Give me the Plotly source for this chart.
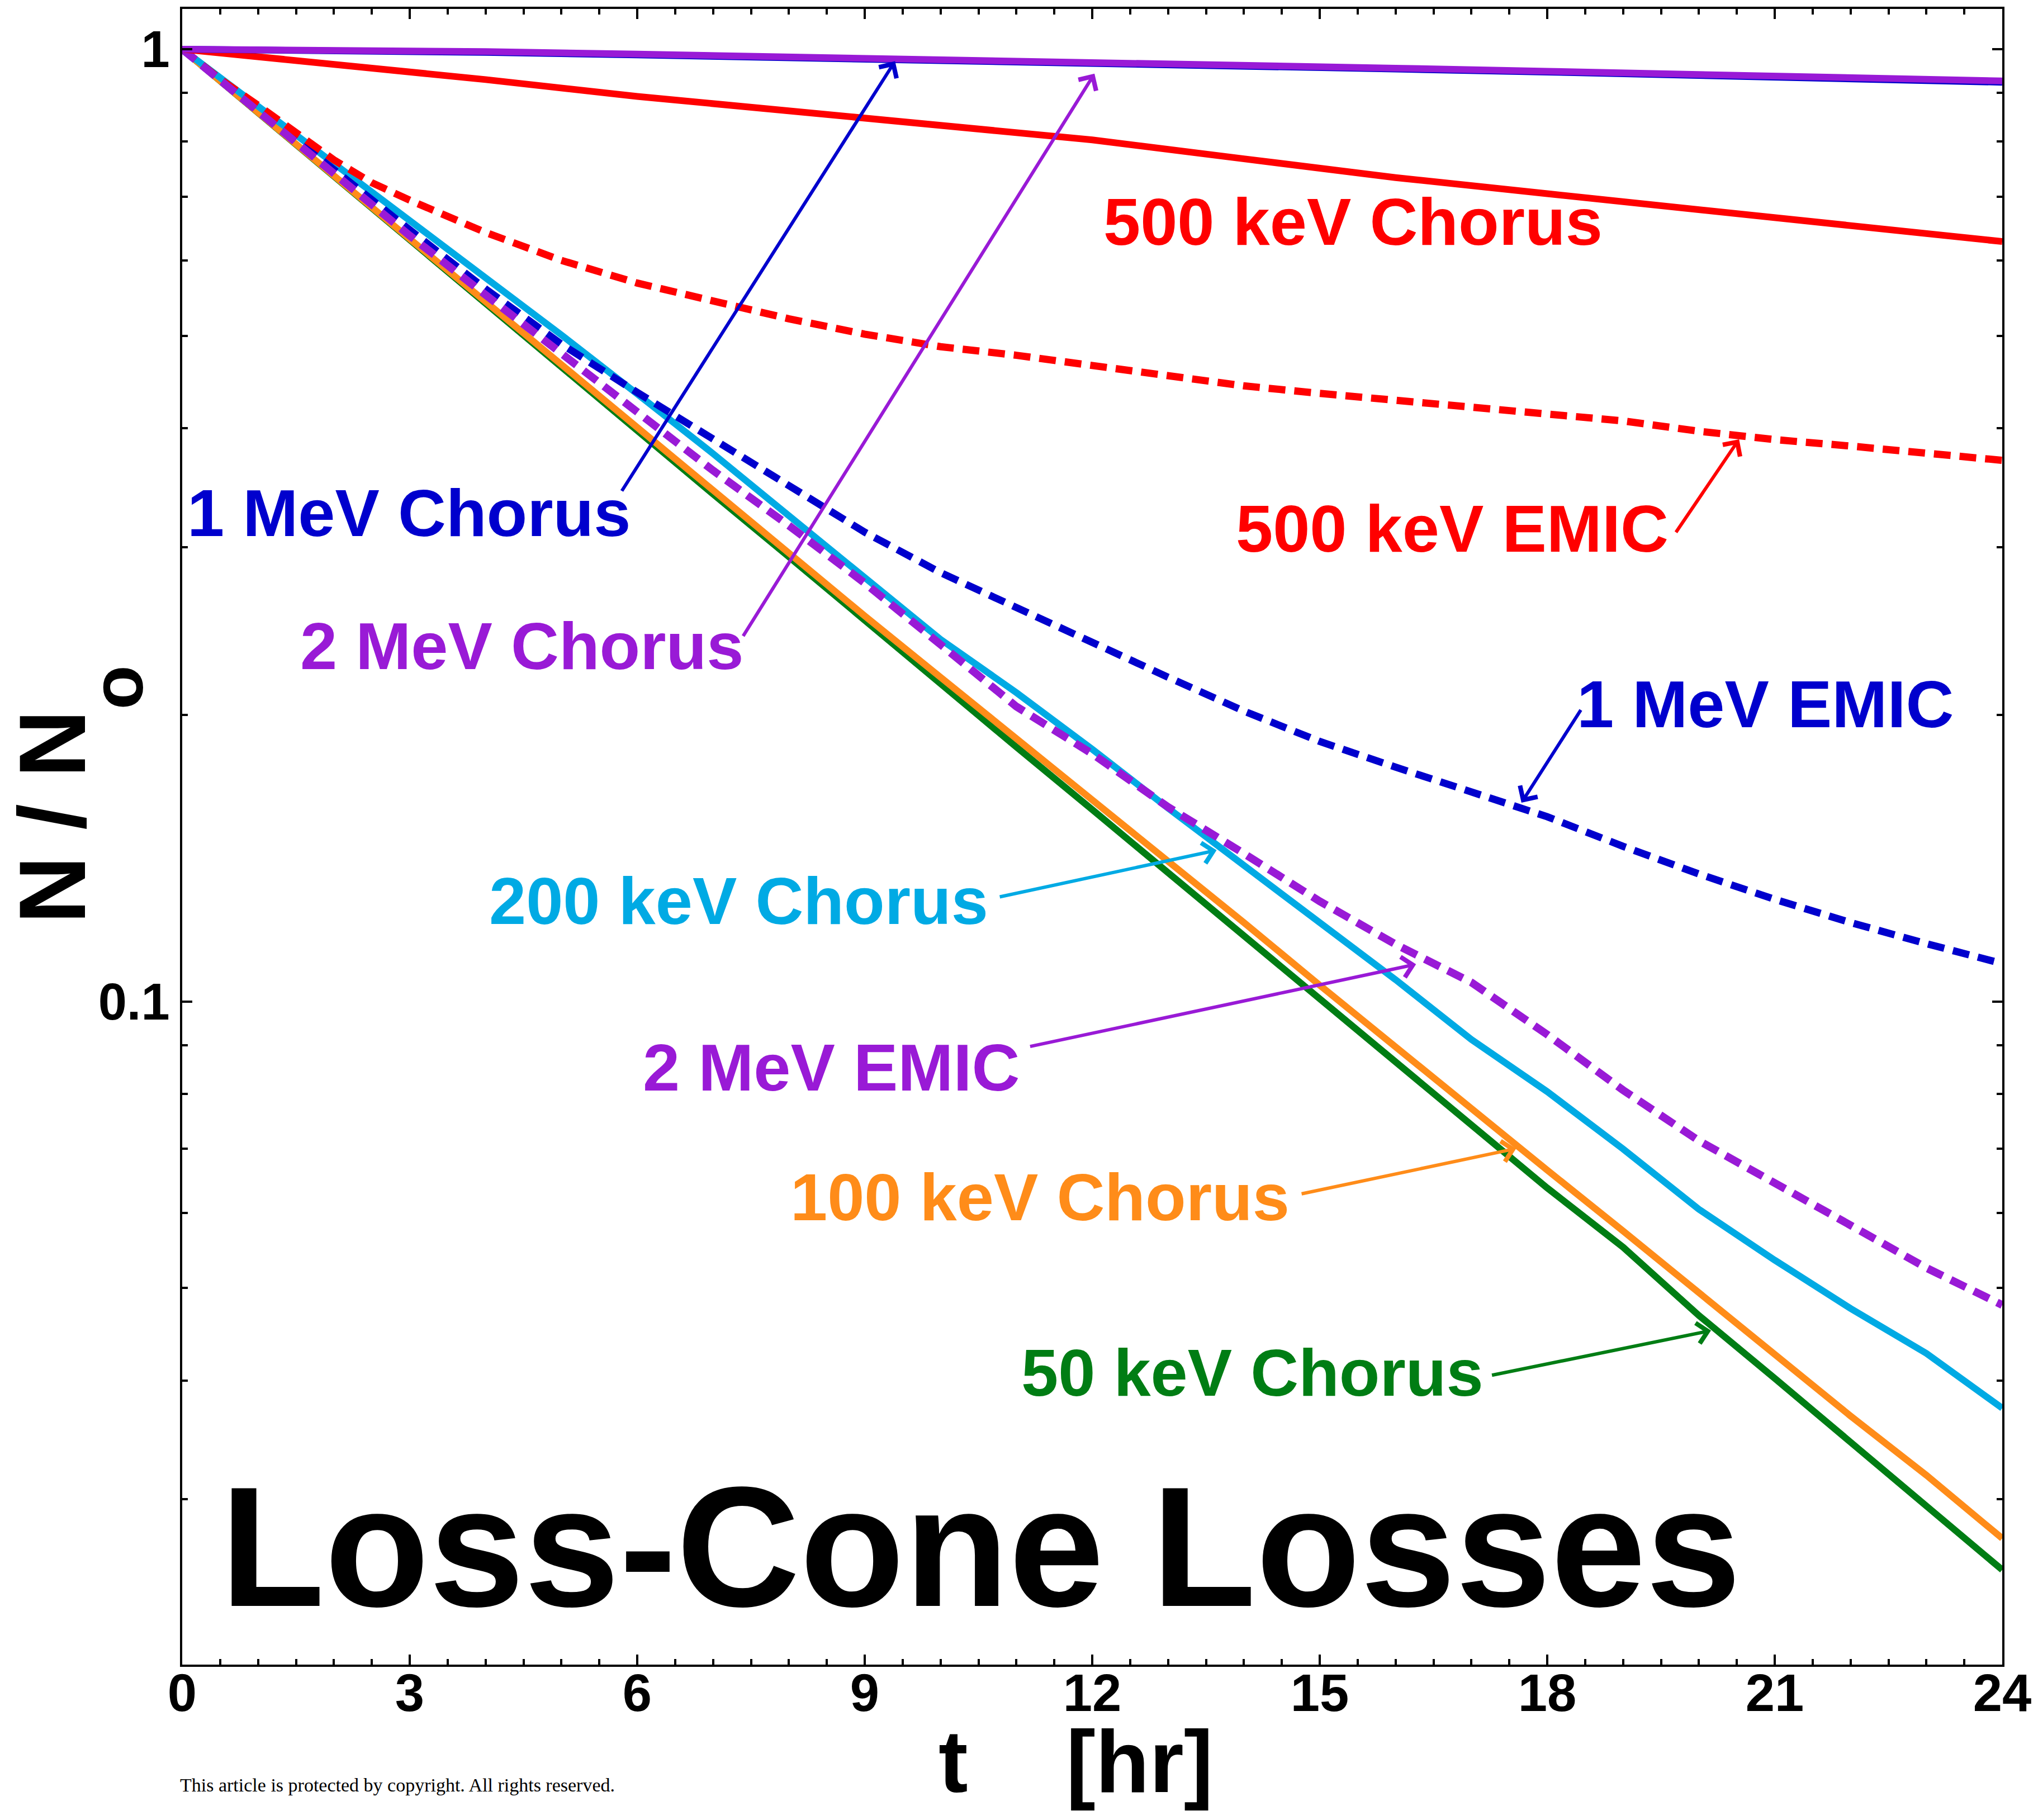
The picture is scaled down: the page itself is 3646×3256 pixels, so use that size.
import plotly.graph_objects as go

# ---------------- data ----------------
t_hr = list(range(25))  # 0..24 hr
t_2hr = list(range(0, 25, 2))
t_500kev_emic = [0, 0.5, 1, 1.5, 2, 2.5, 3] + list(range(4, 25))

n_50kev_chorus = [1.0, 0.857, 0.735, 0.631, 0.541, 0.464, 0.398, 0.341, 0.293, 0.251,
                  0.2155, 0.185, 0.159, 0.1365, 0.117, 0.1005, 0.0865, 0.0744, 0.0637,
                  0.0552, 0.0468, 0.0402, 0.0345, 0.0296, 0.0253]
n_100kev_chorus = [1.0, 0.857, 0.736, 0.632, 0.543, 0.466, 0.400, 0.344, 0.296, 0.254,
                   0.219, 0.189, 0.163, 0.1405, 0.121, 0.104, 0.0895, 0.0772, 0.0665,
                   0.0574, 0.0494, 0.0426, 0.0367, 0.0318, 0.0273]
n_200kev_chorus = [1.0, 0.871, 0.759, 0.661, 0.577, 0.501, 0.4345, 0.376, 0.3236, 0.278,
                   0.240, 0.211, 0.184, 0.1596, 0.1387, 0.121, 0.1054, 0.0912, 0.0804,
                   0.070, 0.0605, 0.0535, 0.0476, 0.0427, 0.0374]
n_2mev_emic = [1.0, 0.859, 0.740, 0.637, 0.552, 0.479, 0.415, 0.361, 0.316, 0.275,
               0.237, 0.204, 0.182, 0.160, 0.143, 0.1274, 0.1148, 0.1047, 0.0923,
               0.0807, 0.0714, 0.0646, 0.0582, 0.0525, 0.048]
n_1mev_emic = [1.0, 0.863, 0.746, 0.646, 0.560, 0.490, 0.436, 0.389, 0.3475, 0.311,
               0.282, 0.259, 0.239, 0.219, 0.2018, 0.1875, 0.1762, 0.1663, 0.1563,
               0.1455, 0.1361, 0.128, 0.121, 0.115, 0.1096]
n_500kev_emic = [1.0, 0.93, 0.873, 0.815, 0.765, 0.724, 0.694,
                 0.642, 0.600, 0.568, 0.543, 0.521, 0.502, 0.487, 0.477, 0.465, 0.453,
                 0.443, 0.435, 0.428, 0.421, 0.415, 0.407, 0.397, 0.389, 0.383, 0.377, 0.370]
n_500kev_chorus = [1.0, 0.965, 0.929, 0.892, 0.861, 0.832, 0.803, 0.767, 0.733, 0.705,
                   0.678, 0.652, 0.628]
n_1mev_chorus = [1.0, 0.997, 0.992, 0.986, 0.980, 0.973, 0.967, 0.960, 0.953, 0.946,
                 0.938, 0.930, 0.923]
n_2mev_chorus = [1.0, 0.998, 0.994, 0.988, 0.982, 0.975, 0.969, 0.962, 0.955, 0.948,
                 0.940, 0.932, 0.926]

x_tickvals = [0, 3, 6, 9, 12, 15, 18, 21, 24]
y_tickvals = [0.1, 1]
y_ticktext = ["0.1", "1"]
y_minor_vals = [0.02, 0.03, 0.04, 0.05, 0.06, 0.07, 0.08, 0.09,
                0.2, 0.3, 0.4, 0.5, 0.6, 0.7, 0.8, 0.9]

# ---------------- styling ----------------
PURPLE = "#991AD6"
BLUE = "#0000CD"
RED = "#FF0000"
CYAN = "#00AAE4"
ORANGE = "#FF8C19"
GREEN = "#007D14"
FONT = "Liberation Sans, Arial, Helvetica, sans-serif"

series = [
    ("50 keV Chorus", t_hr, n_50kev_chorus, GREEN, "solid", 12),
    ("100 keV Chorus", t_hr, n_100kev_chorus, ORANGE, "solid", 12),
    ("200 keV Chorus", t_hr, n_200kev_chorus, CYAN, "solid", 12),
    ("1 MeV EMIC", t_hr, n_1mev_emic, BLUE, "30px,16px", 13),
    ("500 keV EMIC", t_500kev_emic, n_500kev_emic, RED, "30px,16px", 13),
    ("2 MeV EMIC", t_hr, n_2mev_emic, PURPLE, "30px,16px", 14),
    ("500 keV Chorus", t_2hr, n_500kev_chorus, RED, "solid", 12),
    ("1 MeV Chorus", t_2hr, n_1mev_chorus, BLUE, "solid", 12),
    ("2 MeV Chorus", t_2hr, n_2mev_chorus, PURPLE, "solid", 12),
]

fig = go.Figure()
for name, xs, ys, color, dash, width in series:
    fig.add_trace(go.Scatter(x=xs, y=ys, mode="lines", name=name,
                             line=dict(color=color, width=width, dash=dash)))

# curve labels: (text, x [hr], log10(y), color)
labels = [
    ("1 MeV Chorus", 2.99, -0.4871, BLUE),
    ("2 MeV Chorus", 4.48, -0.6266, PURPLE),
    ("500 keV Chorus", 15.44, -0.1811, RED),
    ("500 keV EMIC", 16.75, -0.5035, RED),
    ("1 MeV EMIC", 20.88, -0.6876, BLUE),
    ("200 keV Chorus", 7.34, -0.8945, CYAN),
    ("2 MeV EMIC", 8.56, -1.0692, PURPLE),
    ("100 keV Chorus", 11.31, -1.2052, ORANGE),
    ("50 keV Chorus", 14.11, -1.3898, GREEN),
]
annotations = []
for text, lx, ly, color in labels:
    annotations.append(dict(x=lx, y=ly, xref="x", yref="y", text=text, showarrow=False,
                            xanchor="center", yanchor="middle",
                            font=dict(family=FONT, size=119, color=color, weight="bold")))

# arrows: (tail x, tail log10 y, tip x, tip log10 y, color)
arrows = [
    (5.79, -0.4648, 9.40, -0.0127, BLUE),
    (7.39, -0.6172, 12.03, -0.0258, PURPLE),
    (19.69, -0.5082, 20.53, -0.4097, RED),
    (18.45, -0.6931, 17.66, -0.7913, BLUE),
    (10.77, -0.8904, 13.64, -0.8412, CYAN),
    (11.17, -1.0475, 16.27, -0.9610, PURPLE),
    (14.75, -1.2022, 17.59, -1.1545, ORANGE),
    (17.26, -1.3927, 20.16, -1.3456, GREEN),
]
for axx, ayy, tx, ty, color in arrows:
    annotations.append(dict(x=tx, y=ty, xref="x", yref="y", ax=axx, ay=ayy,
                            axref="x", ayref="y", text="", showarrow=True,
                            arrowhead=4, arrowsize=1.2, arrowwidth=6, arrowcolor=color,
                            standoff=0, startstandoff=0))

# big in-plot title
annotations.append(dict(x=10.53, y=-1.5727, xref="x", yref="y", text="Loss-Cone Losses",
                        showarrow=False, xanchor="center", yanchor="middle",
                        font=dict(family=FONT, size=306, color="black", weight="bold")))
# axis titles
annotations.append(dict(x=-0.0712, y=0.512, xref="paper", yref="paper", text="N / N",
                        textangle=-90, showarrow=False, xanchor="center", yanchor="middle",
                        font=dict(family=FONT, size=168, color="black", weight="bold")))
annotations.append(dict(x=-0.0356, y=0.590, xref="paper", yref="paper", text="o",
                        textangle=-90, showarrow=False, xanchor="center", yanchor="middle",
                        font=dict(family=FONT, size=130, color="black", weight="bold")))
annotations.append(dict(x=0.491, y=-0.0583, xref="paper", yref="paper",
                        text="t\u00a0\u00a0\u00a0\u00a0[hr]",
                        showarrow=False, xanchor="center", yanchor="middle",
                        font=dict(family=FONT, size=158, color="black", weight="bold")))
annotations.append(dict(x=-0.0018, y=-0.0728, xref="paper", yref="paper",
                        text="This article is protected by copyright. All rights reserved.",
                        showarrow=False, xanchor="left", yanchor="middle",
                        font=dict(family="Liberation Serif, Times New Roman, serif",
                                  size=34, color="black")))

axis_common = dict(showline=True, linecolor="black", linewidth=4, mirror="allticks",
                   ticks="inside", ticklen=18, tickwidth=4, tickcolor="black",
                   showgrid=False, zeroline=False)

fig.update_layout(
    width=3646, height=3256,
    margin=dict(l=326, r=61, t=12, b=278, pad=0),
    paper_bgcolor="white", plot_bgcolor="white",
    showlegend=False,
    annotations=annotations,
    xaxis=dict(range=[0, 24], tickmode="array", tickvals=x_tickvals,
               tickfont=dict(family=FONT, size=94, color="black", weight="bold"),
               ticklabelstandoff=-34,
               minor=dict(ticks="inside", ticklen=10, tickwidth=4, tickcolor="black",
                          dtick=0.5, tick0=0, showgrid=False),
               **axis_common),
    yaxis=dict(type="log", range=[-1.6964, 0.0422], tickmode="array",
               tickvals=y_tickvals, ticktext=y_ticktext,
               tickfont=dict(family=FONT, size=92, color="black", weight="bold"),
               minor=dict(ticks="inside", ticklen=10, tickwidth=4, tickcolor="black",
                          tickmode="array", tickvals=y_minor_vals, showgrid=False),
               **axis_common),
)

fig.write_html("out.html")
